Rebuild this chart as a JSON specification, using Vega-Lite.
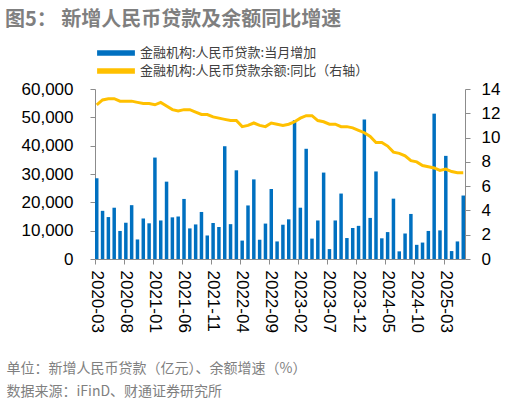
{
  "$schema": "https://vega.github.io/schema/vega-lite/v6.json",
  "autosize": {"type": "none"},
  "padding": {"left": 95, "top": 89, "right": 45, "bottom": 145},
  "width": 370,
  "height": 170,
  "background": "white",
  "title": {
    "text": "图5：    新增人民币贷款及余额同比增速",
    "anchor": "start",
    "frame": "group",
    "dx": -90,
    "dy": -12,
    "font": "Noto Sans CJK SC",
    "fontSize": 20,
    "fontWeight": "bold",
    "color": "#7f7f7f"
  },
  "data": {
    "values": [
      {"month": "2020-03", "loans": 28500, "yoy": 12.7},
      {"month": "2020-04", "loans": 17000, "yoy": 13.1},
      {"month": "2020-05", "loans": 14800, "yoy": 13.2},
      {"month": "2020-06", "loans": 18100, "yoy": 13.2},
      {"month": "2020-07", "loans": 9900, "yoy": 13.0},
      {"month": "2020-08", "loans": 12800, "yoy": 13.0},
      {"month": "2020-09", "loans": 19000, "yoy": 13.0},
      {"month": "2020-10", "loans": 6900, "yoy": 12.9},
      {"month": "2020-11", "loans": 14300, "yoy": 12.8},
      {"month": "2020-12", "loans": 12600, "yoy": 12.8},
      {"month": "2021-01", "loans": 35800, "yoy": 12.7},
      {"month": "2021-02", "loans": 13600, "yoy": 12.9},
      {"month": "2021-03", "loans": 27300, "yoy": 12.6},
      {"month": "2021-04", "loans": 14700, "yoy": 12.3},
      {"month": "2021-05", "loans": 15000, "yoy": 12.2},
      {"month": "2021-06", "loans": 21200, "yoy": 12.3},
      {"month": "2021-07", "loans": 10800, "yoy": 12.3},
      {"month": "2021-08", "loans": 12200, "yoy": 12.1},
      {"month": "2021-09", "loans": 16600, "yoy": 11.9},
      {"month": "2021-10", "loans": 8300, "yoy": 11.9},
      {"month": "2021-11", "loans": 12700, "yoy": 11.7},
      {"month": "2021-12", "loans": 11300, "yoy": 11.6},
      {"month": "2022-01", "loans": 39800, "yoy": 11.5},
      {"month": "2022-02", "loans": 12300, "yoy": 11.4},
      {"month": "2022-03", "loans": 31300, "yoy": 11.4},
      {"month": "2022-04", "loans": 6500, "yoy": 10.9},
      {"month": "2022-05", "loans": 18900, "yoy": 11.0},
      {"month": "2022-06", "loans": 28100, "yoy": 11.2},
      {"month": "2022-07", "loans": 6800, "yoy": 11.0},
      {"month": "2022-08", "loans": 12500, "yoy": 10.9},
      {"month": "2022-09", "loans": 24700, "yoy": 11.2},
      {"month": "2022-10", "loans": 6200, "yoy": 11.1},
      {"month": "2022-11", "loans": 12100, "yoy": 11.0},
      {"month": "2022-12", "loans": 14000, "yoy": 11.1},
      {"month": "2023-01", "loans": 49000, "yoy": 11.3},
      {"month": "2023-02", "loans": 18100, "yoy": 11.6},
      {"month": "2023-03", "loans": 38900, "yoy": 11.8},
      {"month": "2023-04", "loans": 7200, "yoy": 11.8},
      {"month": "2023-05", "loans": 13600, "yoy": 11.4},
      {"month": "2023-06", "loans": 30500, "yoy": 11.3},
      {"month": "2023-07", "loans": 3500, "yoy": 11.1},
      {"month": "2023-08", "loans": 13600, "yoy": 11.1},
      {"month": "2023-09", "loans": 23100, "yoy": 10.9},
      {"month": "2023-10", "loans": 7400, "yoy": 10.9},
      {"month": "2023-11", "loans": 10900, "yoy": 10.8},
      {"month": "2023-12", "loans": 11700, "yoy": 10.6},
      {"month": "2024-01", "loans": 49200, "yoy": 10.4},
      {"month": "2024-02", "loans": 14500, "yoy": 10.1},
      {"month": "2024-03", "loans": 30900, "yoy": 9.6},
      {"month": "2024-04", "loans": 7300, "yoy": 9.6},
      {"month": "2024-05", "loans": 9500, "yoy": 9.3},
      {"month": "2024-06", "loans": 21300, "yoy": 8.8},
      {"month": "2024-07", "loans": 2700, "yoy": 8.7},
      {"month": "2024-08", "loans": 9000, "yoy": 8.5},
      {"month": "2024-09", "loans": 15900, "yoy": 8.1},
      {"month": "2024-10", "loans": 5000, "yoy": 8.0},
      {"month": "2024-11", "loans": 5800, "yoy": 7.7},
      {"month": "2024-12", "loans": 9900, "yoy": 7.6},
      {"month": "2025-01", "loans": 51300, "yoy": 7.5},
      {"month": "2025-02", "loans": 10100, "yoy": 7.3},
      {"month": "2025-03", "loans": 36400, "yoy": 7.4},
      {"month": "2025-04", "loans": 2800, "yoy": 7.2},
      {"month": "2025-05", "loans": 6200, "yoy": 7.1},
      {"month": "2025-06", "loans": 22400, "yoy": 7.1}
    ]
  },
  "encoding": {
    "x": {
      "field": "month",
      "type": "ordinal",
      "scale": {"paddingInner": 0.4, "paddingOuter": 0},
      "axis": {
        "values": ["2020-03", "2020-08", "2021-01", "2021-06", "2021-11", "2022-04", "2022-09", "2023-02", "2023-07", "2023-12", "2024-05", "2024-10", "2025-03"],
        "bandPosition": 0,
        "labelAngle": 90,
        "labelAlign": "left",
        "labelBaseline": "middle",
        "labelPadding": 6,
        "labelOverlap": false,
        "tickSize": 5,
        "title": ["单位：新增人民币贷款（亿元）、余额增速（%）", "数据来源：iFinD、财通证券研究所"],
        "titleAnchor": "start",
        "titleAlign": "left",
        "titleBaseline": "top",
        "titleX": -89,
        "titleY": 102,
        "titleFont": "Noto Sans CJK SC",
        "titleFontSize": 14,
        "titleFontWeight": "normal",
        "titleColor": "#7f7f7f",
        "titleLineHeight": 23
      }
    }
  },
  "layer": [
    {
      "mark": {"type": "bar"},
      "encoding": {
        "y": {
          "field": "loans",
          "type": "quantitative",
          "scale": {"domain": [0, 60000]},
          "axis": {
            "values": [0, 10000, 20000, 30000, 40000, 50000, 60000],
            "labelExpr": "format(datum.value, ',')",
            "labelPadding": 17,
            "title": null
          }
        },
        "color": {
          "datum": "金融机构:人民币贷款:当月增加",
          "scale": {
            "domain": ["金融机构:人民币贷款:当月增加", "金融机构:人民币贷款余额:同比（右轴）"],
            "range": ["#0070C0", "#FFC000"]
          },
          "legend": {
            "title": null,
            "orient": "none",
            "legendX": 14,
            "legendY": -43,
            "padding": 0,
            "symbolType": "M-2.7,-0.4H2.7V0.4H-2.7Z",
            "symbolSize": 196,
            "symbolStrokeWidth": 0,
            "labelFont": "Noto Sans CJK SC",
            "labelFontSize": 13,
            "labelColor": "#404040",
            "labelOffset": 17,
            "labelLimit": 0,
            "rowPadding": 4
          }
        }
      }
    },
    {
      "mark": {"type": "line", "strokeWidth": 3},
      "encoding": {
        "y": {
          "field": "yoy",
          "type": "quantitative",
          "scale": {"domain": [0, 14]},
          "axis": {
            "orient": "right",
            "values": [0, 2, 4, 6, 8, 10, 12, 14],
            "labelPadding": 11,
            "title": null
          }
        },
        "color": {"datum": "金融机构:人民币贷款余额:同比（右轴）"}
      }
    }
  ],
  "resolve": {"scale": {"y": "independent"}},
  "config": {
    "view": {"stroke": null},
    "axis": {
      "grid": false,
      "labelFont": "Liberation Sans",
      "labelFontSize": 17,
      "labelColor": "#000000",
      "domainColor": "#8c8c8c",
      "tickColor": "#8c8c8c",
      "tickSize": 5
    }
  }
}
